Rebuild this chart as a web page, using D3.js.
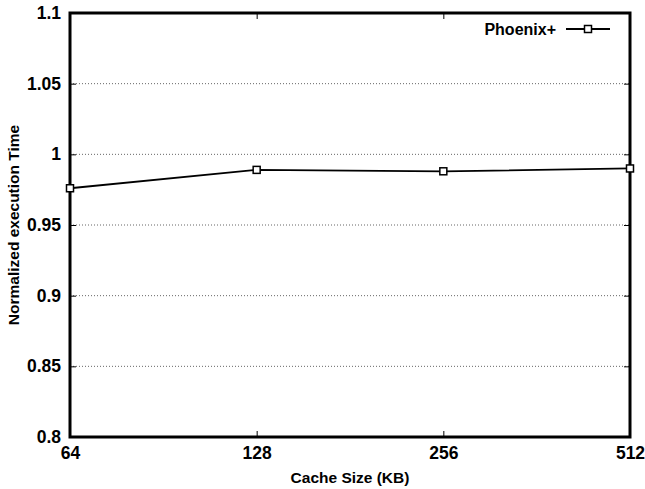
<!DOCTYPE html>
<html>
<head>
<meta charset="utf-8">
<script src="https://cdn.jsdelivr.net/npm/d3@7"></script>
<style>
  body { margin: 0; background: #fff; }
  text { font-family: "Liberation Sans", Arial, sans-serif; font-weight: bold; }
</style>
</head>
<body>
<div id="chart"></div>
<script>
const cacheSizes = [64, 128, 256, 512];
const phoenixPlus = [0.976, 0.989, 0.988, 0.990];
const yTicks = [0.8, 0.85, 0.9, 0.95, 1, 1.05, 1.1];
const seriesName = "Phoenix+";

const W = 645, H = 489;
const margin = { top: 13, right: 15, bottom: 52, left: 70 };

const svg = d3.select("#chart").append("svg")
  .attr("width", W).attr("height", H);

const x = d3.scaleLog().base(2)
  .domain([64, 512])
  .range([margin.left, W - margin.right]);

const y = d3.scaleLinear()
  .domain([0.8, 1.1])
  .range([H - margin.bottom, margin.top]);

// grid lines
svg.append("g")
  .selectAll("line")
  .data(yTicks.slice(1, -1))
  .join("line")
  .attr("x1", margin.left).attr("x2", W - margin.right)
  .attr("y1", d => y(d)).attr("y2", d => y(d))
  .attr("stroke", "#666")
  .attr("stroke-width", 1)
  .attr("stroke-dasharray", "1,2");

// y axis ticks (left + mirrored right)
const yAxis = svg.append("g")
  .attr("transform", `translate(${margin.left},0)`)
  .call(d3.axisLeft(y).tickValues(yTicks).tickFormat(d => d3.format("")(d)).tickSize(-6).tickPadding(9))
  .call(g => g.select(".domain").remove());
yAxis.selectAll(".tick line").attr("stroke", "#000").attr("stroke-width", 1);
yAxis.selectAll(".tick text").style("font-size", "17.5px").attr("fill", "#000");

svg.append("g")
  .attr("transform", `translate(${W - margin.right},0)`)
  .call(d3.axisRight(y).tickValues(yTicks).tickSize(-6).tickFormat(""))
  .call(g => g.select(".domain").remove());

// x axis ticks (bottom + mirrored top)
const xAxis = svg.append("g")
  .attr("transform", `translate(0,${H - margin.bottom})`)
  .call(d3.axisBottom(x).tickValues(cacheSizes).tickFormat(d => d).tickSize(-6).tickPadding(10))
  .call(g => g.select(".domain").remove());
xAxis.selectAll(".tick text").style("font-size", "17.5px").attr("fill", "#000");

svg.append("g")
  .attr("transform", `translate(0,${margin.top})`)
  .call(d3.axisTop(x).tickValues(cacheSizes).tickSize(-6).tickFormat(""))
  .call(g => g.select(".domain").remove());

// frame
svg.append("rect")
  .attr("x", margin.left).attr("y", margin.top)
  .attr("width", W - margin.left - margin.right)
  .attr("height", H - margin.top - margin.bottom)
  .attr("fill", "none")
  .attr("stroke", "#000")
  .attr("stroke-width", 3);

// series line
const line = d3.line()
  .x((d, i) => x(cacheSizes[i]))
  .y(d => y(d));

svg.append("path")
  .attr("d", line(phoenixPlus))
  .attr("fill", "none")
  .attr("stroke", "#000")
  .attr("stroke-width", 1.8);

svg.append("g")
  .selectAll("rect")
  .data(phoenixPlus)
  .join("rect")
  .attr("x", (d, i) => x(cacheSizes[i]) - 3.5)
  .attr("y", d => y(d) - 3.5)
  .attr("width", 7).attr("height", 7)
  .attr("fill", "#fff")
  .attr("stroke", "#000")
  .attr("stroke-width", 1.5);

// legend
const legend = svg.append("g").attr("transform", "translate(556,29)");
legend.append("text")
  .attr("x", 0).attr("y", 5.5)
  .attr("text-anchor", "end")
  .style("font-size", "16px")
  .text(seriesName);
legend.append("line")
  .attr("x1", 10).attr("x2", 54)
  .attr("stroke", "#000").attr("stroke-width", 1.8);
legend.append("rect")
  .attr("x", 28.5).attr("y", -3.5)
  .attr("width", 7).attr("height", 7)
  .attr("fill", "#fff").attr("stroke", "#000").attr("stroke-width", 1.5);

// axis titles
svg.append("text")
  .attr("x", (margin.left + W - margin.right) / 2)
  .attr("y", 483)
  .attr("text-anchor", "middle")
  .style("font-size", "15.5px")
  .text("Cache Size (KB)");

svg.append("text")
  .attr("transform", `translate(19,${(margin.top + H - margin.bottom) / 2}) rotate(-90)`)
  .attr("text-anchor", "middle")
  .style("font-size", "15.5px")
  .text("Normalized execution Time");
</script>
</body>
</html>
